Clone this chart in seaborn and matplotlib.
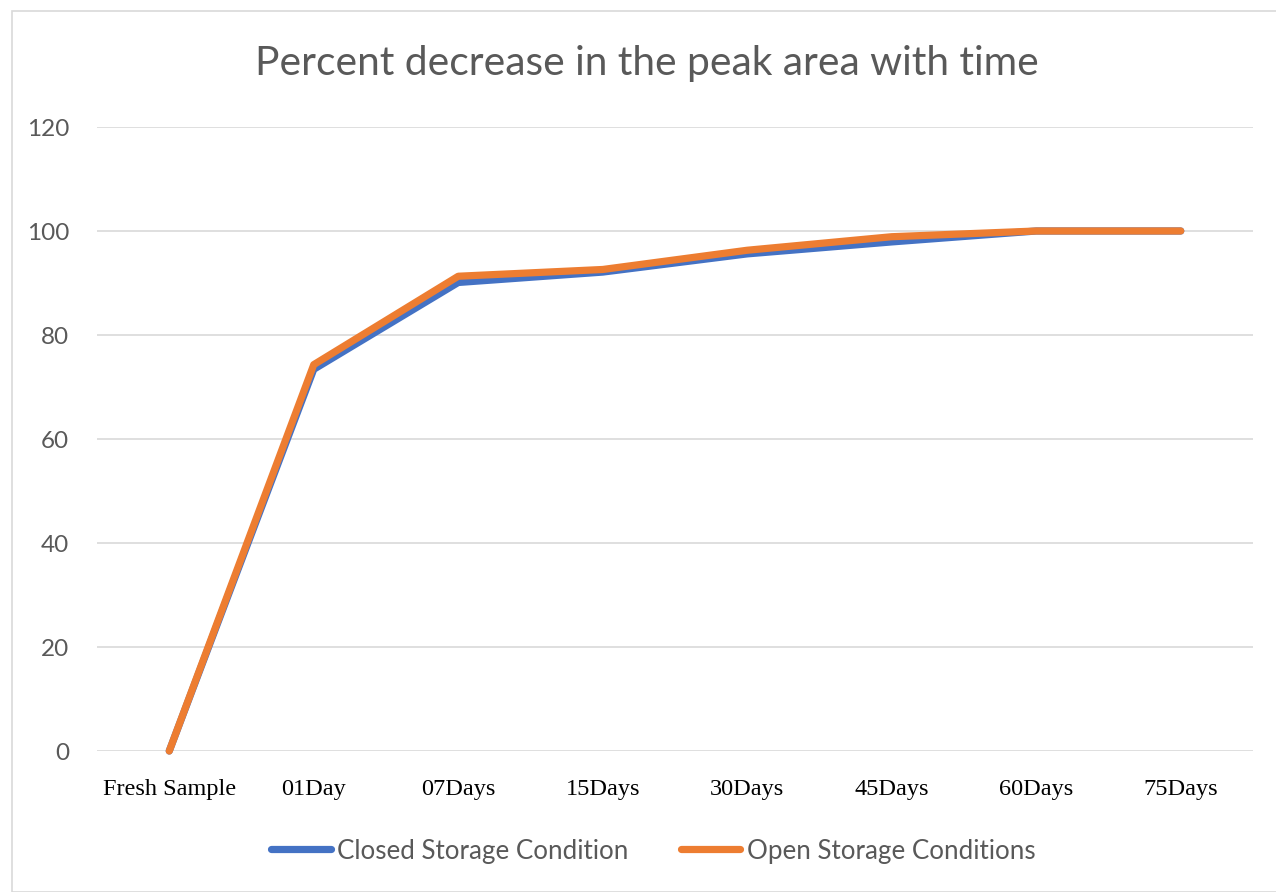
import matplotlib
matplotlib.use("Agg")
import matplotlib.pyplot as plt
import seaborn as sns
import pandas as pd
from matplotlib.patches import Rectangle

categories = ["Fresh Sample", "01Day", "07Days", "15Days", "30Days", "45Days", "60Days", "75Days"]
closed_storage = [0, 73.4, 90.1, 92.1, 95.6, 97.9, 100, 100]
open_storage = [0, 74.3, 91.3, 92.6, 96.3, 98.9, 100, 100]
series_names = ["Closed Storage Condition", "Open Storage Conditions"]
y_ticks = [0, 20, 40, 60, 80, 100, 120]

df = pd.DataFrame({
    "pos": list(range(len(categories))) * 2,
    "value": closed_storage + open_storage,
    "series": [series_names[0]] * len(categories) + [series_names[1]] * len(categories),
})

sns.set_theme(style="white")
plt.rcParams["font.family"] = ["Lato", "DejaVu Sans"]

fig = plt.figure(figsize=(12.76, 8.92), dpi=100)
ax = fig.add_axes([97 / 1276, 1 - 751 / 892, (1253 - 97) / 1276, (751 - 127) / 892])

palette = {series_names[0]: "#4472C4", series_names[1]: "#ED7D31"}
sns.lineplot(data=df, x="pos", y="value", hue="series", palette=palette,
             linewidth=5.2, ax=ax, legend=False, sort=False,
             solid_capstyle="round", solid_joinstyle="round", zorder=3)

ax.set_xlim(-0.5, len(categories) - 0.5)
ax.set_ylim(0, 120)
ax.set_yticks(y_ticks)
ax.set_yticklabels([str(t) for t in y_ticks], color="#595959", fontsize=17.5)
ax.set_xticks(range(len(categories)))
ax.set_xticklabels(categories, fontfamily="Liberation Serif", fontsize=17.5, color="black")
ax.tick_params(axis="both", length=0)
ax.tick_params(axis="x", pad=20)
ax.tick_params(axis="y", pad=20)
ax.yaxis.grid(True, color="#D9D9D9", linewidth=1.2)
ax.xaxis.grid(False)
for s in ax.spines.values():
    s.set_visible(False)
ax.set_xlabel("")
ax.set_ylabel("")
for line in ax.lines:
    line.set_clip_on(False)

fig.text(0.507, 1 - 63 / 892, "Percent decrease in the peak area with time",
         ha="center", va="center", fontsize=29.3, color="#595959")

handles = [plt.Line2D([0], [0], color=palette[n], linewidth=5.2, solid_capstyle="round") for n in series_names]
fig.legend(handles, series_names, loc="center", bbox_to_anchor=(0.512, 1 - 851 / 892),
           ncol=2, frameon=False, fontsize=18.7, labelcolor="#595959",
           handlelength=2.3, handletextpad=0.25, columnspacing=2.0)

fig.patches.append(Rectangle((12 / 1276, 0), 1, 1 - 11 / 892, transform=fig.transFigure,
                             fill=False, edgecolor="#D9D9D9", linewidth=1.2))

fig.savefig("out.png", dpi=100, facecolor="white")
